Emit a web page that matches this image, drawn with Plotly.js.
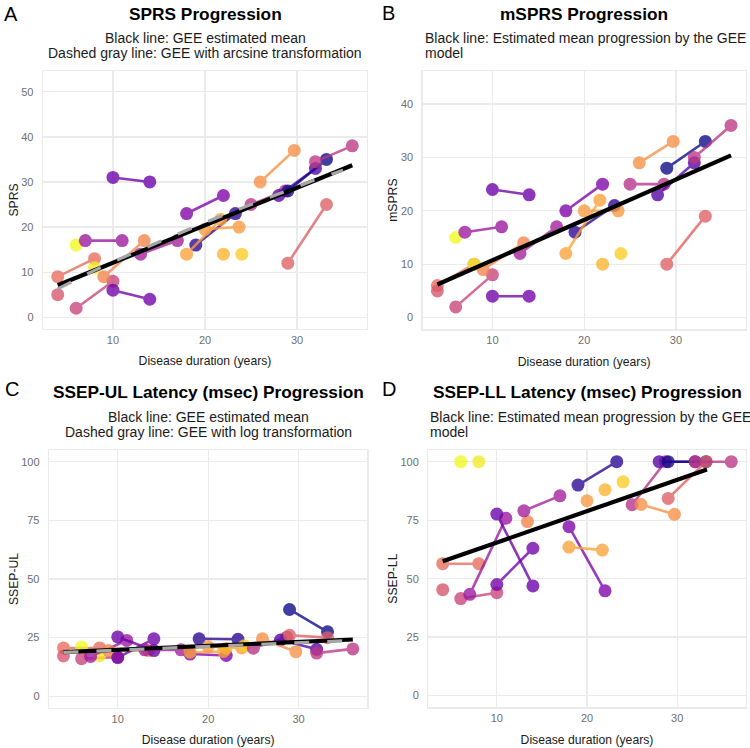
<!DOCTYPE html>
<html>
<head>
<meta charset="utf-8">
<script src="https://cdn.plot.ly/plotly-3.0.1.min.js"></script>
<style>html,body{margin:0;padding:0;background:#fff;}#chart{width:750px;height:748px;}</style>
</head>
<body>
<div id="chart"></div>
<script>
// ---- DATA ----
const patients = ['P1','P2','P3','P4','P5','P6','P7','P8','P9','P10','P11','P12','P13','P14','P15','P16','P17','P18','P19','P20','P21','P22'];
const patientColors = ['#e66c5c','#d6566d','#c8437b','#f0f921','#f3ea27','#9c179e','#f2844b','#6a00a8','#7201a8','#a31e9a','#7e03a8','#2a0593','#fba238','#f99a3e','#fdb42f','#fccd25','#b7318a','#5402a3','#0d0887','#f79044','#de5f65','#bd3786'];
const duration = [[4,8],[4],[6,10],[6],[8],[7,11],[9,13.4],[10,14],[10,14],[13,17],[18,22],[19,23.3],[18,21.7],[20,23.7],[22],[24],[25,28.7],[28,32],[29,33.2],[26,29.7],[29,33.2],[32,36]];
const sprs   = [[9,13],[5],[2,8],[16],[11],[17,17],[9,17],[31,30],[6,4],[14,17],[23,27],[16,23],[14,21.7],[19.5,20],[14],[14],[25,28],[27,33],[28,35],[30,37],[12,25],[34.5,38]];
const msprs  = [[6,10],[5],[2,8],[15],[10],[16,17],[9,14],[24,23],[4,4],[12,17],[20,25],[16,21],[12,22],[20,20],[10],[12],[25,25],[23,29],[28,33],[29,33],[10,19],[30,36]];
const ssepUL = [[20.6,20.6],[17.2],[16,16.7],[21],[17.3],[17,23.8],[19.5,19.5],[25.3,19.5],[16.5,24.5],[19.8,19.8],[18,17.4],[24.5,24.3],[18.8,19.1],[21.2,20.6],[20.5],[21.5],[20.5,25.2],[24,20],[37,27.5],[24.5,19],[26,25],[18.4,20.2]];
const ssepLL = [[56.4,56.4],[45.3],[41.5,44],[100],[100],[43.3,75.8],[null,74.4],[77.6,46.9],[47.5,63],[79,85.4],[72.2,44.8],[90,100],[63.5,62.2],[83.3,null],[88],[91.4],[81.6,100],[100,100],[100,100],[81.7,77.5],[84.3,100],[100,100]];

// GEE estimated mean lines
const geeSprsX = [4,36],        geeSprsY = [7.1,33.7];
const arcsineX = [4,8,12,16,20,24,28,32,35], arcsineY = [6.3,10.4,14.1,17.6,21.0,24.2,27.4,30.5,32.6];
const geeMsprsX = [4,36],       geeMsprsY = [6.2,30.4];
const geeULX = [4,36],          geeULY = [18.8,24.2];
const logULX = [4,12,20,28,36], logULY = [18.7,19.9,21.1,22.4,23.8];
const geeLLX = [4,33.3],        geeLLY = [57.4,96.7];

// Tick labels
const xTicks = [10,20,30];
const sprsTicks = [0,10,20,30,40,50];
const msprsTicks = [0,10,20,30,40];
const ssepTicks = [0,25,50,75,100];

// ---- BUILD ----
const traces = [];
function addPatients(values, xa, ya){
  patients.forEach((p,i)=>{
    traces.push({
      type:'scatter', mode: duration[i].length>1 ? 'lines+markers' : 'markers',
      x: duration[i], y: values[i], xaxis: xa, yaxis: ya,
      name: p, showlegend:false, opacity:0.78, connectgaps:false,
      line:{color:patientColors[i], width:2.6},
      marker:{color:patientColors[i], size:13, line:{width:0}},
      hoverinfo:'x+y+name'
    });
  });
}
function addLine(x,y,xa,ya,color,width,dash){
  traces.push({type:'scatter',mode:'lines',x:x,y:y,xaxis:xa,yaxis:ya,showlegend:false,
    line:{color:color,width:width,dash:dash||'solid'},hoverinfo:'skip'});
}
addPatients(sprs,'x','y');
addLine(geeSprsX,geeSprsY,'x','y','#000',4.2);
addLine(arcsineX,arcsineY,'x','y','#a6a6a6',3.2,'15px,18px');
addPatients(msprs,'x2','y2');
addLine(geeMsprsX,geeMsprsY,'x2','y2','#000',4.2);
addPatients(ssepUL,'x3','y3');
addLine(geeULX,geeULY,'x3','y3','#000',4.2);
addLine(logULX,logULY,'x3','y3','#a6a6a6',3.2,'15px,18px');
addPatients(ssepLL,'x4','y4');
addLine(geeLLX,geeLLY,'x4','y4','#000',4.2);

const W=750,H=748;
const FONT='"Liberation Sans", Arial, Helvetica, sans-serif';
const px=x=>x/W, py=y=>1-y/H;
function xax(dom, anchor){
  return {domain:dom, anchor:anchor, range:[2.4,37.6], tickvals:xTicks, ticks:'',
    showgrid:true, gridcolor:'#ebebeb', gridwidth:1.3, zeroline:false,
    showline:true, mirror:true, linecolor:'#ebebeb', linewidth:1.3,
    tickfont:{size:11,color:'#6e6e6e',family:FONT}, ticklabelstandoff:0,
    title:{text:'Disease duration (years)', font:{size:12.2,color:'#1a1a1a',family:FONT}, standoff:12}};
}
function yax(dom, anchor, range, ticks, title){
  return {domain:dom, anchor:anchor, range:range, tickvals:ticks, ticks:'',
    showgrid:true, gridcolor:'#ebebeb', gridwidth:1.3, zeroline:false,
    showline:true, mirror:true, linecolor:'#ebebeb', linewidth:1.3,
    tickfont:{size:11,color:'#6e6e6e',family:FONT}, ticklabelstandoff:6,
    title:{text:title, font:{size:12.2,color:'#1a1a1a',family:FONT}, standoff:0}};
}
const layout = {
  width:W, height:H, margin:{l:0,r:0,t:0,b:0}, paper_bgcolor:'#fff', plot_bgcolor:'#fff',
  font:{family:FONT}, showlegend:false,
  xaxis: xax([px(43),px(367)],'y'),
  yaxis: yax([py(329),py(71)],'x',[-2.6,54.6],sprsTicks,'SPRS'),
  xaxis2: xax([px(422.7),px(745.7)],'y2'),
  yaxis2: yax([py(329.3),py(71)],'x2',[-2.2,46.2],msprsTicks,'mSPRS'),
  xaxis3: xax([px(49),px(367.3)],'y3'),
  yaxis3: yax([py(708),py(450)],'x3',[-5,105],ssepTicks,'SSEP-UL'),
  xaxis4: xax([px(428.3),px(745.7)],'y4'),
  yaxis4: yax([py(707.3),py(450)],'x4',[-5,105],ssepTicks,'SSEP-LL'),
  annotations: []
};
function ann(text,x,y,size,opts){
  layout.annotations.push(Object.assign({text:text,x:px(x),y:py(y),xref:'paper',yref:'paper',
    showarrow:false,xanchor:'center',yanchor:'middle',font:{size:size,color:'#1a1a1a',family:FONT}},opts||{}));
}
const letterFont={size:20,color:'#000',family:FONT};
const titleFont={size:17.3,color:'#000',family:FONT};
// panel letters
ann('A',11,14,20,{font:letterFont});
ann('B',388,13,20,{font:letterFont});
ann('C',12,389,20,{font:letterFont});
ann('D',389,389,20,{font:letterFont});
// titles
ann('<b>SPRS Progression</b>',205,14,17.3,{font:titleFont});
ann('<b>mSPRS Progression</b>',584,14,17.3,{font:titleFont});
ann('<b>SSEP-UL Latency (msec) Progression</b>',208,392,17.3,{font:titleFont});
ann('<b>SSEP-LL Latency (msec) Progression</b>',587,392,17.3,{font:titleFont});
// subtitles
ann('Black line: GEE estimated mean',205,38.3,14);
ann('Dashed gray line: GEE with arcsine transformation',205,53.3,14);
ann('Black line: Estimated mean progression by the GEE',422.7,38.3,14,{xanchor:'left'});
ann('model',422.7,53.3,14,{xanchor:'left'});
ann('Black line: GEE estimated mean',208,417.3,14);
ann('Dashed gray line: GEE with log transformation',208,432.3,14);
ann('Black line: Estimated mean progression by the GEE',428.3,417.3,14,{xanchor:'left'});
ann('model',428.3,432.3,14,{xanchor:'left'});

Plotly.newPlot('chart', traces, layout, {staticPlot:true, displayModeBar:false});
</script>
</body>
</html>
